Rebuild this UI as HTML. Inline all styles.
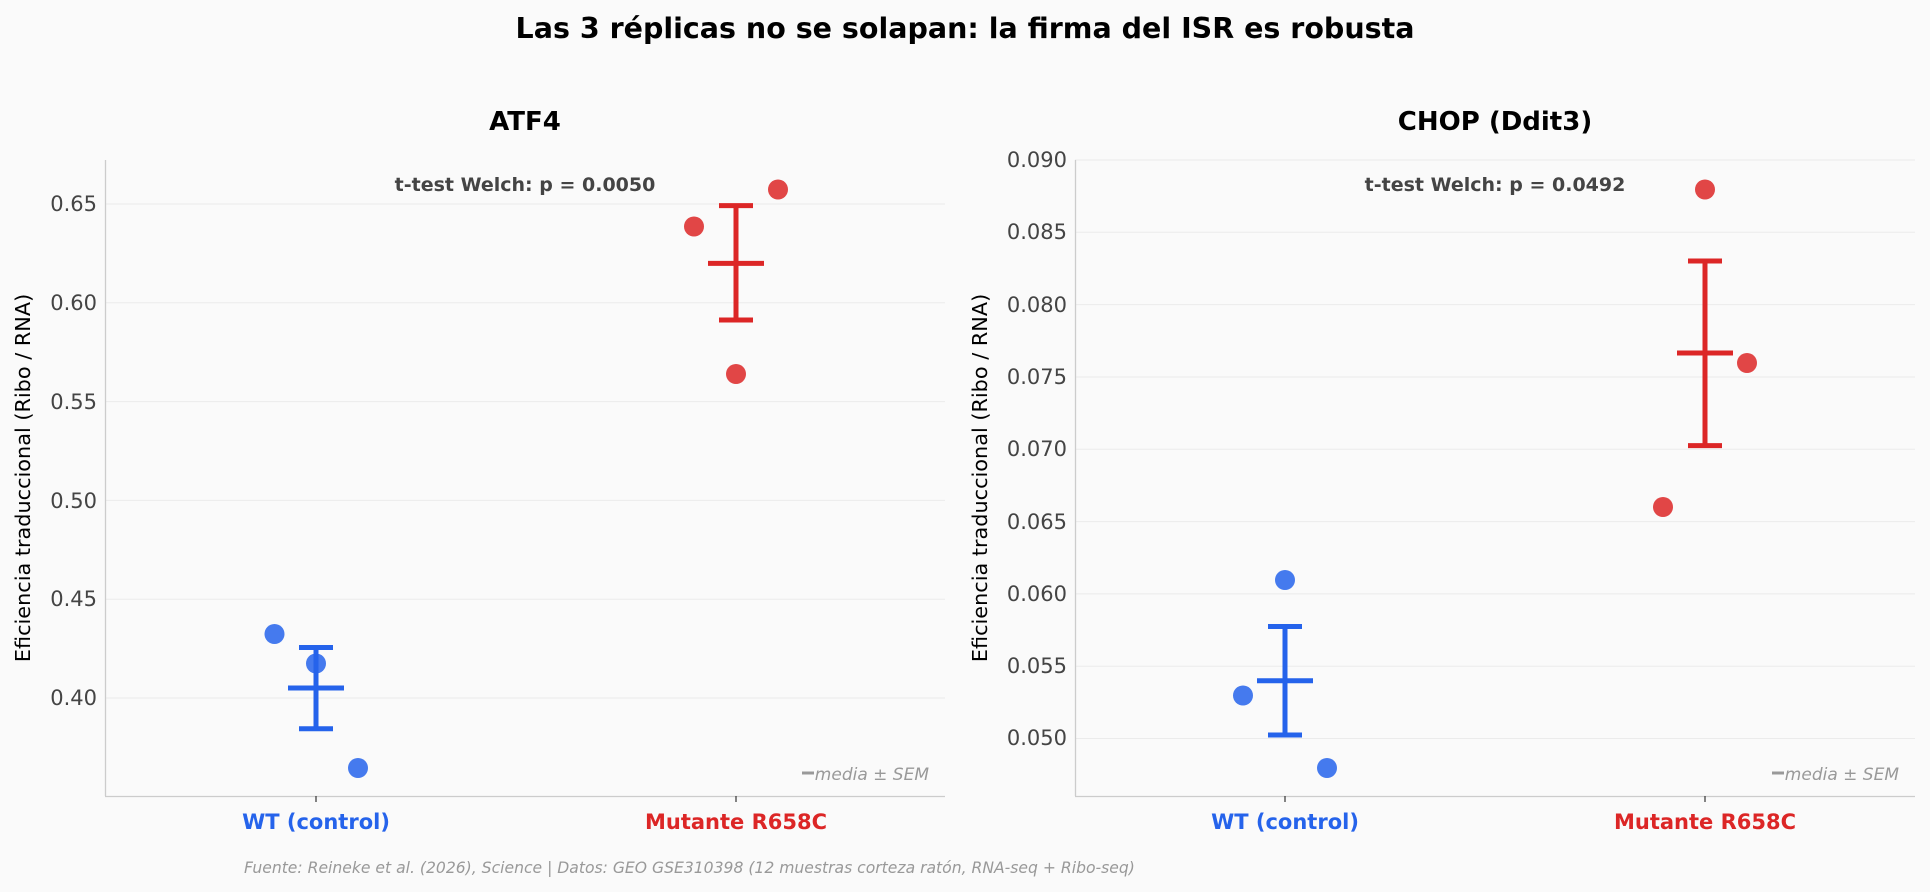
<!DOCTYPE html>
<html><head><meta charset="utf-8"><style>
html,body{margin:0;padding:0;background:#fafafa;}
svg{display:block;font-family:"DejaVu Sans","Liberation Sans",sans-serif;}
</style></head><body>
<svg width="1930" height="892" viewBox="0 0 1930 892" xmlns="http://www.w3.org/2000/svg">
<rect width="1930" height="892" fill="#fafafa"/>
<text x="965" y="38" text-anchor="middle" font-size="28.5" font-weight="bold" fill="#000">Las 3 réplicas no se solapan: la firma del ISR es robusta</text>

<!-- Left panel -->
<text x="525" y="130" text-anchor="middle" font-size="26" font-weight="bold">ATF4</text>
<g stroke="#ebebeb" stroke-width="1">
<line x1="105" x2="945" y1="204" y2="204"/><line x1="105" x2="945" y1="302.8" y2="302.8"/>
<line x1="105" x2="945" y1="401.6" y2="401.6"/><line x1="105" x2="945" y1="500.4" y2="500.4"/>
<line x1="105" x2="945" y1="599.2" y2="599.2"/><line x1="105" x2="945" y1="698" y2="698"/>
</g>
<g stroke="#cccccc" stroke-width="1.3"><line x1="105.5" y1="160" x2="105.5" y2="796"/><line x1="105" y1="796.5" x2="945" y2="796.5"/></g>
<g stroke="#333" stroke-width="1.2"><line x1="316" x2="316" y1="796" y2="802"/><line x1="736" x2="736" y1="796" y2="802"/></g>
<g font-size="21" fill="#444" text-anchor="end">
<text x="97" y="211">0.65</text><text x="97" y="310">0.60</text><text x="97" y="409">0.55</text>
<text x="97" y="508">0.50</text><text x="97" y="606">0.45</text><text x="97" y="705">0.40</text>
</g>
<text transform="translate(30,478) rotate(-90)" text-anchor="middle" font-size="20.8" fill="#000">Eficiencia traduccional (Ribo / RNA)</text>
<text x="316" y="829" text-anchor="middle" font-size="21" font-weight="bold" fill="#2563eb">WT (control)</text>
<text x="736" y="829" text-anchor="middle" font-size="21" font-weight="bold" fill="#dc2626">Mutante R658C</text>
<text x="525" y="191" text-anchor="middle" font-size="19" font-weight="bold" fill="#444">t-test Welch: p = 0.0050</text>
<g fill="#2563eb" fill-opacity="0.85"><circle cx="274.5" cy="634" r="10"/><circle cx="316" cy="663.5" r="10"/><circle cx="358" cy="768" r="10"/></g>
<g fill="#dc2626" fill-opacity="0.85"><circle cx="694" cy="226.5" r="10"/><circle cx="778" cy="189.5" r="10"/><circle cx="736" cy="374" r="10"/></g>
<g stroke="#2563eb" stroke-width="5"><line x1="316" x2="316" y1="647.5" y2="728.7"/><line x1="299" x2="333" y1="647.5" y2="647.5"/><line x1="299" x2="333" y1="728.7" y2="728.7"/><line x1="288" x2="344" y1="688" y2="688"/></g>
<g stroke="#dc2626" stroke-width="5"><line x1="736" x2="736" y1="205.6" y2="320"/><line x1="719" x2="753" y1="205.6" y2="205.6"/><line x1="719" x2="753" y1="320" y2="320"/><line x1="708" x2="764" y1="263.4" y2="263.4"/></g>
<line x1="802" x2="814" y1="773" y2="773" stroke="#999" stroke-width="3"/>
<text x="929" y="780" text-anchor="end" font-size="17" font-style="italic" fill="#999">media ± SEM</text>

<!-- Right panel -->
<text x="1495" y="130" text-anchor="middle" font-size="26" font-weight="bold">CHOP (Ddit3)</text>
<g stroke="#ebebeb" stroke-width="1">
<line x1="1075" x2="1915" y1="160" y2="160"/><line x1="1075" x2="1915" y1="232.3" y2="232.3"/>
<line x1="1075" x2="1915" y1="304.6" y2="304.6"/><line x1="1075" x2="1915" y1="377" y2="377"/>
<line x1="1075" x2="1915" y1="449.3" y2="449.3"/><line x1="1075" x2="1915" y1="521.6" y2="521.6"/>
<line x1="1075" x2="1915" y1="593.9" y2="593.9"/><line x1="1075" x2="1915" y1="666.2" y2="666.2"/>
<line x1="1075" x2="1915" y1="738.5" y2="738.5"/>
</g>
<g stroke="#cccccc" stroke-width="1.3"><line x1="1075.5" y1="160" x2="1075.5" y2="796"/><line x1="1075" y1="796.5" x2="1915" y2="796.5"/></g>
<g stroke="#333" stroke-width="1.2"><line x1="1285" x2="1285" y1="796" y2="802"/><line x1="1705" x2="1705" y1="796" y2="802"/></g>
<g font-size="21" fill="#444" text-anchor="end">
<text x="1067" y="167">0.090</text><text x="1067" y="239">0.085</text><text x="1067" y="312">0.080</text>
<text x="1067" y="384">0.075</text><text x="1067" y="456">0.070</text><text x="1067" y="529">0.065</text>
<text x="1067" y="601">0.060</text><text x="1067" y="673">0.055</text><text x="1067" y="745">0.050</text>
</g>
<text transform="translate(987,478) rotate(-90)" text-anchor="middle" font-size="20.8" fill="#000">Eficiencia traduccional (Ribo / RNA)</text>
<text x="1285" y="829" text-anchor="middle" font-size="21" font-weight="bold" fill="#2563eb">WT (control)</text>
<text x="1705" y="829" text-anchor="middle" font-size="21" font-weight="bold" fill="#dc2626">Mutante R658C</text>
<text x="1495" y="191" text-anchor="middle" font-size="19" font-weight="bold" fill="#444">t-test Welch: p = 0.0492</text>
<g fill="#2563eb" fill-opacity="0.85"><circle cx="1243" cy="695.5" r="10"/><circle cx="1285" cy="580" r="10"/><circle cx="1327" cy="768" r="10"/></g>
<g fill="#dc2626" fill-opacity="0.85"><circle cx="1705" cy="189.5" r="10"/><circle cx="1747" cy="363" r="10"/><circle cx="1663" cy="507" r="10"/></g>
<g stroke="#2563eb" stroke-width="5"><line x1="1285" x2="1285" y1="626.5" y2="735"/><line x1="1268" x2="1302" y1="626.5" y2="626.5"/><line x1="1268" x2="1302" y1="735" y2="735"/><line x1="1257" x2="1313" y1="680.7" y2="680.7"/></g>
<g stroke="#dc2626" stroke-width="5"><line x1="1705" x2="1705" y1="261" y2="445.6"/><line x1="1688" x2="1722" y1="261" y2="261"/><line x1="1688" x2="1722" y1="445.6" y2="445.6"/><line x1="1677" x2="1733" y1="353" y2="353"/></g>
<line x1="1772" x2="1784" y1="773" y2="773" stroke="#999" stroke-width="3"/>
<text x="1899" y="780" text-anchor="end" font-size="17" font-style="italic" fill="#999">media ± SEM</text>

<text x="244" y="873" font-size="15.6" font-style="italic" fill="#999">Fuente: Reineke et al. (2026), Science | Datos: GEO GSE310398 (12 muestras corteza ratón, RNA-seq + Ribo-seq)</text>
</svg>
</body></html>
